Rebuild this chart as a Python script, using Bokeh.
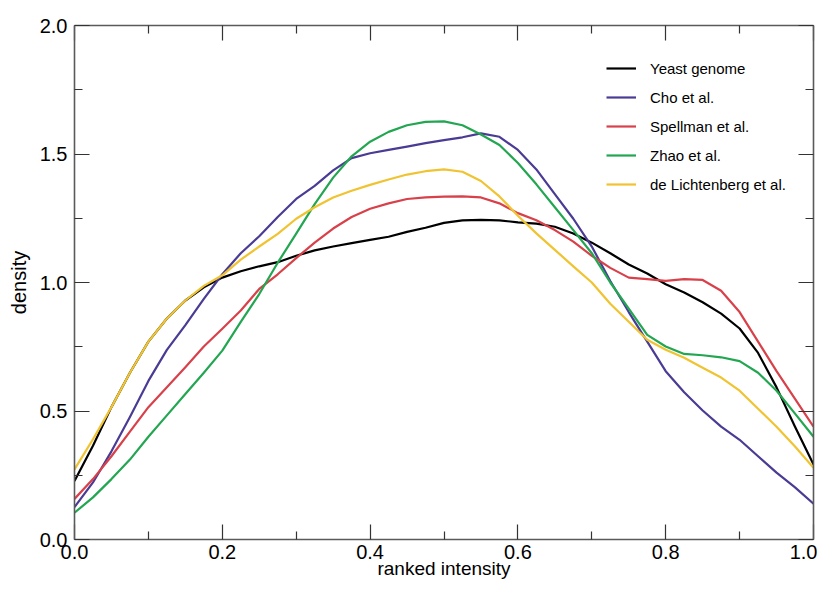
from bokeh.plotting import figure
from bokeh.models import (FixedTicker, LinearAxis, Range1d, Legend, LegendItem,
                          PrintfTickFormatter, CustomLabelingPolicy)
from bokeh.embed import file_html
from bokeh.resources import INLINE

# ---- data ----
x = [0.0, 0.025, 0.05, 0.075, 0.1, 0.125, 0.15, 0.175, 0.2, 0.225, 0.25, 0.275,
     0.3, 0.325, 0.35, 0.375, 0.4, 0.425, 0.45, 0.475, 0.5, 0.525, 0.55, 0.575,
     0.6, 0.625, 0.65, 0.675, 0.7, 0.725, 0.75, 0.775, 0.8, 0.825, 0.85, 0.875,
     0.9, 0.925, 0.95, 0.975, 1.0]

yeast_genome = [0.228, 0.365, 0.515, 0.649, 0.77, 0.86, 0.93, 0.981, 1.019, 1.044,
                1.063, 1.079, 1.104, 1.125, 1.14, 1.153, 1.166, 1.178, 1.197, 1.213,
                1.232, 1.242, 1.244, 1.242, 1.234, 1.229, 1.217, 1.191, 1.155, 1.114,
                1.07, 1.035, 0.993, 0.961, 0.923, 0.879, 0.821, 0.726, 0.592, 0.439,
                0.292]

cho = [0.126, 0.222, 0.343, 0.477, 0.617, 0.738, 0.834, 0.936, 1.032, 1.114,
       1.18, 1.255, 1.325, 1.376, 1.436, 1.484, 1.503, 1.516, 1.529, 1.542,
       1.554, 1.565, 1.58, 1.567, 1.516, 1.44, 1.344, 1.248, 1.14, 1.006,
       0.885, 0.77, 0.655, 0.573, 0.502, 0.439, 0.388, 0.324, 0.26, 0.203,
       0.139]

spellman = [0.158, 0.235, 0.324, 0.42, 0.515, 0.592, 0.67, 0.751, 0.82, 0.891,
            0.975, 1.032, 1.095, 1.155, 1.21, 1.255, 1.287, 1.308, 1.325, 1.331,
            1.334, 1.335, 1.331, 1.308, 1.27, 1.242, 1.204, 1.159, 1.104, 1.057,
            1.019, 1.013, 1.006, 1.013, 1.01, 0.968, 0.885, 0.77, 0.655, 0.547,
            0.439]

zhao = [0.104, 0.164, 0.235, 0.311, 0.40, 0.483, 0.566, 0.649, 0.735, 0.847,
        0.955, 1.077, 1.19, 1.305, 1.408, 1.491, 1.548, 1.586, 1.612, 1.625,
        1.627, 1.612, 1.576, 1.535, 1.465, 1.382, 1.293, 1.204, 1.114, 1.0,
        0.898, 0.796, 0.751, 0.722, 0.717, 0.709, 0.694, 0.649, 0.579, 0.49,
        0.40]

de_lichtenberg = [0.273, 0.39, 0.515, 0.649, 0.77, 0.86, 0.93, 0.987, 1.028, 1.089,
                  1.14, 1.189, 1.248, 1.293, 1.331, 1.357, 1.38, 1.401, 1.42, 1.433,
                  1.44, 1.431, 1.395, 1.335, 1.26, 1.191, 1.127, 1.063, 1.0, 0.917,
                  0.847, 0.777, 0.738, 0.707, 0.668, 0.63, 0.579, 0.509, 0.439, 0.362,
                  0.279]

series_names = ["Yeast genome", "Cho et al.", "Spellman et al.", "Zhao et al.",
                "de Lichtenberg et al."]
series_values = [yeast_genome, cho, spellman, zhao, de_lichtenberg]
series_colors = ["#000000", "#4a3c94", "#d8414a", "#23a651", "#f0c330"]

x_major_ticks = [0.0, 0.2, 0.4, 0.6, 0.8, 1.0]
x_minor_ticks = [0.1, 0.3, 0.5, 0.7, 0.9]
y_major_ticks = [0.0, 0.5, 1.0, 1.5, 2.0]
y_minor_ticks = [0.25, 0.75, 1.25, 1.75]

FONT = "Liberation Sans"

p = figure(width=817, height=581, output_backend="svg", toolbar_location=None,
           x_range=Range1d(0, 1), y_range=Range1d(0, 2),
           min_border_left=74, min_border_right=0, min_border_top=25,
           min_border_bottom=33)
p.xgrid.visible = False
p.ygrid.visible = False
p.outline_line_color = None
p.background_fill_color = "white"
p.border_fill_color = "white"

renderers = []
for name, vals, col in zip(series_names, series_values, series_colors):
    r = p.line(x, vals, line_color=col, line_width=2.2, line_join="round")
    renderers.append((name, r))

hide_all = CustomLabelingPolicy(
    code="const all = [...indices]; for (const i of all) { indices.unset(i) }; return indices")


def style_axis(ax, labels=True):
    ax.axis_line_color = "#5a5a5a"
    ax.axis_line_width = 1.6
    ax.major_tick_line_color = "#333333"
    ax.minor_tick_line_color = "#333333"
    ax.major_tick_line_width = 1.2
    ax.minor_tick_line_width = 1.2
    ax.major_tick_in = 15
    ax.major_tick_out = 0
    ax.minor_tick_in = 8
    ax.minor_tick_out = 0
    if labels:
        ax.major_label_text_font = FONT
        ax.major_label_text_font_size = "20px"
        ax.major_label_text_color = "black"
        ax.formatter = PrintfTickFormatter(format="%.1f")
    else:
        ax.major_label_text_font_size = "1px"
        ax.major_label_standoff = 0
        ax.major_label_policy = hide_all


p.xaxis.ticker = FixedTicker(ticks=x_major_ticks, minor_ticks=x_minor_ticks)
p.yaxis.ticker = FixedTicker(ticks=y_major_ticks, minor_ticks=y_minor_ticks)
style_axis(p.xaxis[0])
style_axis(p.yaxis[0])
p.xaxis.major_label_standoff = 5
p.yaxis.major_label_standoff = 7

p.yaxis.axis_label = "density"
p.yaxis.axis_label_text_font = FONT
p.yaxis.axis_label_text_font_size = "20px"
p.yaxis.axis_label_text_font_style = "normal"
p.yaxis.axis_label_text_color = "black"
p.yaxis.axis_label_standoff = 7

p.xaxis.axis_label = "ranked intensity"
p.xaxis.axis_label_text_font = FONT
p.xaxis.axis_label_text_font_size = "19px"
p.xaxis.axis_label_text_font_style = "normal"
p.xaxis.axis_label_text_color = "black"
p.xaxis.axis_label_standoff = -4

top = LinearAxis(ticker=FixedTicker(ticks=x_major_ticks, minor_ticks=x_minor_ticks))
style_axis(top, labels=False)
p.add_layout(top, "above")
right = LinearAxis(ticker=FixedTicker(ticks=y_major_ticks, minor_ticks=y_minor_ticks))
style_axis(right, labels=False)
p.add_layout(right, "right")

legend = Legend(items=[LegendItem(label=n, renderers=[r]) for n, r in renderers],
                location=(532, 345), orientation="vertical",
                border_line_color=None, background_fill_alpha=0,
                padding=0, margin=0, spacing=9, glyph_width=30, glyph_height=20,
                label_height=20, label_standoff=14,
                label_text_font=FONT, label_text_font_size="15px",
                label_text_color="black")
p.add_layout(legend)

open("out.html", "w").write(file_html(p, INLINE))
